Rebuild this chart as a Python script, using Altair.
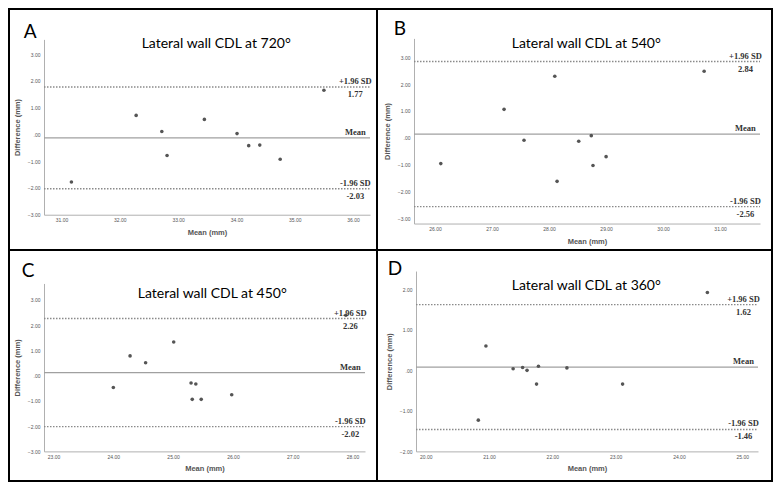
import altair as alt
import pandas as pd

# ---------------- data ----------------
letters = ["A", "B", "C", "D"]
titles = ["Lateral wall CDL at 720°", "Lateral wall CDL at 540°",
          "Lateral wall CDL at 450°", "Lateral wall CDL at 360°"]

mean_A = [31.17, 32.28, 32.72, 32.81, 33.45, 34.01, 34.21, 34.40, 34.75, 35.50]
diff_A = [-1.78, 0.71, 0.11, -0.79, 0.56, 0.03, -0.42, -0.40, -0.93, 1.65]
mean_B = [26.10, 27.21, 27.56, 28.10, 28.14, 28.52, 28.74, 28.77, 29.00, 30.72]
diff_B = [-0.96, 1.06, -0.09, 2.29, -1.62, -0.13, 0.08, -1.03, -0.70, 2.48]
mean_C = [24.00, 24.28, 24.54, 25.01, 25.30, 25.38, 25.32, 25.47, 25.98, 27.89]
diff_C = [-0.47, 0.78, 0.51, 1.33, -0.29, -0.33, -0.94, -0.94, -0.76, 2.39]
mean_D = [20.83, 20.95, 21.38, 21.53, 21.60, 21.75, 21.78, 22.23, 23.11, 24.45]
diff_D = [-1.23, 0.60, 0.04, 0.07, 0.00, -0.34, 0.10, 0.06, -0.34, 1.92]

means = [mean_A, mean_B, mean_C, mean_D]
diffs = [diff_A, diff_B, diff_C, diff_D]

upper = [1.77, 2.84, 2.26, 1.62]
lower = [-2.03, -2.56, -2.02, -1.46]
bias = [-0.13, 0.14, 0.12, 0.08]

x_domains = [(30.70, 36.29), (25.63, 31.70), (22.84, 28.21), (19.845, 25.25)]
y_domains = [(-3.0, 3.55), (-3.19, 3.70), (-3.0, 3.65), (-2.0, 2.45)]
x_ticks = [[31, 32, 33, 34, 35, 36], [26, 27, 28, 29, 30, 31],
           [23, 24, 25, 26, 27, 28], [20, 21, 22, 23, 24, 25]]
y_ticks = [[-3, -2, -1, 0, 1, 2, 3], [-3, -2, -1, 0, 1, 2, 3],
           [-3, -2, -1, 0, 1, 2, 3], [-2, -1, 0, 1, 2]]

# ---------------- layout (pixels) ----------------
ref_size = [(371, 244), (400, 244), (371, 240), (400, 240)]
my_size = [(366, 239), (393, 239), (366, 229), (393, 229)]
ref_axes = [(34, 365, 30, 209), (37, 389, 29, 218), (34, 360, 34, 210), (39, 387, 21, 210)]
ref_letter = [(14, 29), (16, 26), (12, 27), (10, 25)]
ref_title = [(209, 39), (212, 39), (205, 49), (212, 41)]

SANS = "Liberation Sans"
SERIF = "Liberation Serif"
TITLEFONT = "Lato"


def build_panel(i):
    W, H = my_size[i]
    rw, rh = ref_size[i]
    sx, sy = W / rw, H / rh
    l, r, t, b = ref_axes[i]
    xl, xr, yt, yb = round(l * sx), round(r * sx), t * sy, b * sy
    x0, x1 = x_domains[i]
    y0, y1 = y_domains[i]

    xs = alt.Scale(domain=[x0, x1], range=[xl, xr], nice=False, zero=False)
    ys = alt.Scale(domain=[y0, y1], range=[yb, yt], nice=False, zero=False)

    x_axis = alt.Axis(
        orient="bottom", offset=yb - H, values=x_ticks[i], format=".2f",
        title="Mean (mm)", titleX=(xl + xr) / 2, titleY=18 * sy,
        titleAlign="center", titleBaseline="middle", titleFont=SANS,
        titleFontSize=7.5, titleFontWeight="bold", titleColor="#555555",
        labelFont=SANS, labelFontSize=5, labelColor="#555555", labelPadding=3,
        labelFlush=False, labelOverlap=False, ticks=False, grid=False,
        domainColor="#b0b0b0", domainWidth=1)
    y_axis = alt.Axis(
        orient="left", offset=-xl, values=y_ticks[i],
        labelExpr="datum.value == 0 ? '.00' : format(datum.value, '.2f')",
        title="Difference (mm)", titleX=-27 * sx, titleY=(yt + yb) / 2,
        titleAngle=270, titleAlign="center", titleBaseline="middle",
        titleFont=SANS, titleFontSize=7.5, titleFontWeight="bold",
        titleColor="#555555", labelFont=SANS, labelFontSize=5,
        labelColor="#555555", labelPadding=4, labelOverlap=False,
        ticks=False, grid=False, domainColor="#b0b0b0", domainWidth=1)

    def X(field):
        return alt.X(field, scale=xs, axis=x_axis)

    def Y(field):
        return alt.Y(field, scale=ys, axis=y_axis)

    lim = pd.DataFrame({"v": [upper[i], lower[i]], "x0": [x0, x0], "x1": [x1, x1]})
    mid = pd.DataFrame({"v": [bias[i]], "x0": [x0], "x1": [x1]})
    sd_rules = alt.Chart(lim).mark_rule(color="#8a8a8a", strokeWidth=1.4,
                                        strokeDash=[1.5, 1.5]).encode(
        x=X("x0:Q"), x2="x1:Q", y=Y("v:Q"))
    mean_rule = alt.Chart(mid).mark_rule(color="#a0a0a0", strokeWidth=1.3).encode(
        x=X("x0:Q"), x2="x1:Q", y=Y("v:Q"))

    pts_df = pd.DataFrame({"m": means[i], "d": diffs[i]})
    pts = alt.Chart(pts_df).mark_circle(size=13, color="#555555", opacity=1).encode(
        x=X("m:Q"), y=Y("d:Q"))

    lab_x = (r - 15) * sx
    above = pd.DataFrame({"v": [upper[i], bias[i], lower[i]],
                          "t": ["+1.96 SD", "Mean", "-1.96 SD"]})
    below = pd.DataFrame({"v": [upper[i], lower[i]],
                          "t": [f"{upper[i]:.2f}", f"{lower[i]:.2f}"]})
    txt_above = alt.Chart(above).mark_text(
        font=SERIF, fontSize=8.5, fontWeight="bold", color="#333333",
        align="center", baseline="bottom", dy=-1).encode(
        x=alt.value(lab_x), y=Y("v:Q"), text="t:N")
    txt_below = alt.Chart(below).mark_text(
        font=SERIF, fontSize=8.5, fontWeight="bold", color="#333333",
        align="center", baseline="top", dy=3).encode(
        x=alt.value(lab_x), y=Y("v:Q"), text="t:N")

    lx, lyb = ref_letter[i]
    letter = alt.Chart(pd.DataFrame({"t": [letters[i]]})).mark_text(
        font=TITLEFONT, fontSize=19, color="#000000", align="left",
        baseline="alphabetic").encode(
        x=alt.value(lx * sx), y=alt.value(lyb * sy), text="t:N")
    tx, tyb = ref_title[i]
    title = alt.Chart(pd.DataFrame({"t": [titles[i]]})).mark_text(
        font=TITLEFONT, fontSize=14, color="#000000", align="center",
        baseline="alphabetic").encode(
        x=alt.value(tx * sx), y=alt.value(tyb * sy), text="t:N")

    return alt.layer(sd_rules, mean_rule, pts, txt_above, txt_below,
                     letter, title).properties(width=W, height=H)


panels = [build_panel(i) for i in range(4)]
top = alt.hconcat(panels[0], panels[1], spacing=2)
bottom = alt.hconcat(panels[2], panels[3], spacing=2)
chart = alt.vconcat(top, bottom, spacing=2, background="black",
                    padding=2).configure_view(fill="white", strokeWidth=0)

chart.save("out.html", embed_options={"renderer": "svg", "actions": False})
